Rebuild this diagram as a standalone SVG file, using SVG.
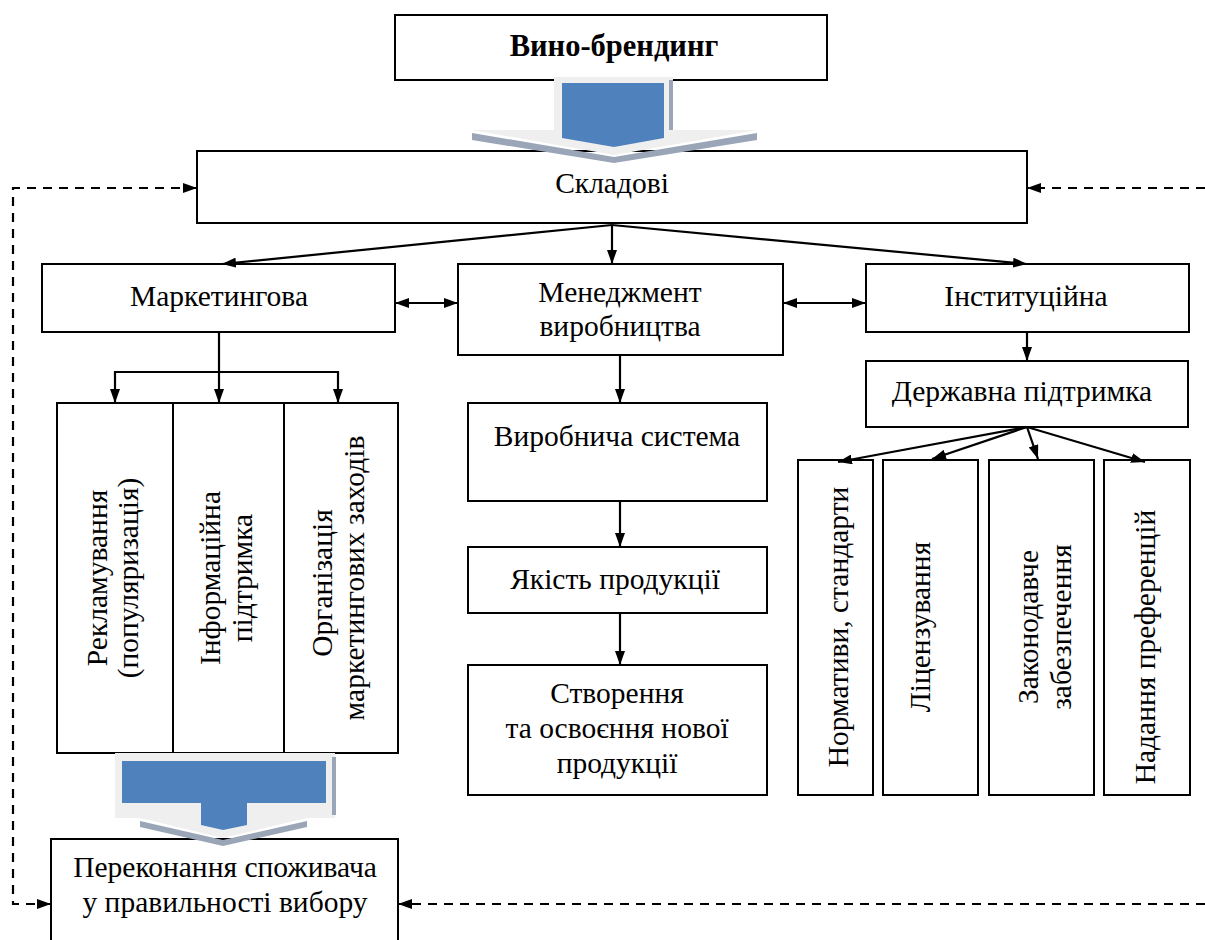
<svg xmlns="http://www.w3.org/2000/svg" width="1205" height="940" viewBox="0 0 1205 940">
<defs>
<style>
.box{fill:#fff;stroke:#000;stroke-width:2}
.t{font-family:"Liberation Serif","Times New Roman",serif;font-size:29.5px;fill:#000;text-anchor:middle}
.b{font-weight:bold;font-size:30.5px}
.ln{fill:none;stroke:#000;stroke-width:2.2}
.dash{fill:none;stroke:#000;stroke-width:2.2;stroke-dasharray:9 7}
.blue{fill:#4f81bd}
.lite{fill:#efefef}
.shade{fill:#9aa6b8}
</style>
<marker id="ah" viewBox="0 0 14 10" refX="14" refY="5" markerWidth="14" markerHeight="10" markerUnits="userSpaceOnUse" orient="auto-start-reverse">
<path d="M0,0 L14,5 L0,10 z" fill="#000"/>
</marker>
</defs>

<g id="node-vyno">
<rect class="box" x="395" y="15" width="432" height="65"/>
<text class="t b" x="614" y="56">Вино-брендинг</text>
</g>

<g id="node-skladovi">
<rect class="box" x="197" y="151" width="830" height="72"/>
<text class="t" x="612" y="193">Складові</text>
</g>

<g id="arrow-top">
<polygon class="shade" points="472,133 614,157 757,133 757,140 614,163 472,140"/>
<polygon class="lite" points="554,77 673,77 673,130 757,130 614,155 472,130 554,130"/>
<rect class="shade" x="669" y="80" width="4" height="50"/>
<polygon class="blue" points="562,83 664,83 664,138 614,147 562,138"/>
</g>

<g id="node-marketing">
<rect class="box" x="42" y="264" width="353" height="68"/>
<text class="t" x="219" y="306">Маркетингова</text>
</g>

<g id="node-management">
<rect class="box" x="458" y="264" width="325" height="91"/>
<text class="t" x="620" y="302">Менеджмент</text>
<text class="t" x="620" y="336">виробництва</text>
</g>

<g id="node-instytutsiina">
<rect class="box" x="866" y="264" width="323" height="68"/>
<text class="t" x="1026" y="306">Інституційна</text>
</g>

<g id="node-reklamuvannia">
<rect class="box" x="57" y="403" width="116" height="350"/>
<text class="t" transform="translate(107,578) rotate(-90)">Рекламування</text>
<text class="t" transform="translate(138,578) rotate(-90)">(популяризація)</text>
</g>
<g id="node-informatsiina">
<rect class="box" x="173" y="403" width="111" height="350"/>
<text class="t" transform="translate(220,578) rotate(-90)">Інформаційна</text>
<text class="t" transform="translate(252,578) rotate(-90)">підтримка</text>
</g>
<g id="node-orhanizatsiia">
<rect class="box" x="284" y="403" width="114" height="350"/>
<text class="t" transform="translate(332,583) rotate(-90)">Організація</text>
<text class="t" transform="translate(364,578) rotate(-90)">маркетингових заходів</text>
</g>

<g id="node-vyrobnycha">
<rect class="box" x="468" y="403" width="299" height="98"/>
<text class="t" x="617" y="446">Виробнича система</text>
</g>
<g id="node-yakist">
<rect class="box" x="468" y="547" width="299" height="66"/>
<text class="t" x="615" y="589">Якість продукції</text>
</g>
<g id="node-stvorennia">
<rect class="box" x="468" y="665" width="299" height="130"/>
<text class="t" x="617" y="703">Створення</text>
<text class="t" x="617" y="738">та освоєння нової</text>
<text class="t" x="617" y="773">продукції</text>
</g>

<g id="node-derzhavna">
<rect class="box" x="866" y="361" width="322" height="66"/>
<text class="t" x="1022" y="401">Державна підтримка</text>
</g>

<g id="node-normatyvy">
<rect class="box" x="798" y="460" width="75" height="335"/>
<text class="t" transform="translate(848,627) rotate(-90)">Нормативи,  стандарти</text>
</g>
<g id="node-litsenzuvannia">
<rect class="box" x="883" y="460" width="95" height="335"/>
<text class="t" transform="translate(930,627) rotate(-90)">Ліцензування</text>
</g>
<g id="node-zakonodavche">
<rect class="box" x="989" y="460" width="105" height="335"/>
<text class="t" transform="translate(1038,627) rotate(-90)">Законодавче</text>
<text class="t" transform="translate(1071,627) rotate(-90)">забезпечення</text>
</g>
<g id="node-nadannia">
<rect class="box" x="1104" y="460" width="86" height="335"/>
<text class="t" transform="translate(1155,647) rotate(-90)">Надання преференцій</text>
</g>

<g id="node-perekonannia">
<rect class="box" x="51" y="839" width="347" height="120"/>
<text class="t" x="225" y="877">Переконання споживача</text>
<text class="t" x="225" y="912">у правильності вибору</text>
</g>

<g id="arrow-bottom">
<polygon class="shade" points="140,821 223,840 307,821 307,827 223,846 140,827"/>
<polygon class="lite" points="115,753 335,753 335,818 307,818 223,838 140,818 115,818"/>
<rect class="shade" x="332" y="757" width="4" height="58"/>
<polygon class="blue" points="122,761 326,761 326,803 247,803 247,825 223,830 201,825 201,803 122,803"/>
</g>

<g id="connectors">
<line class="ln" x1="612" y1="225" x2="222" y2="264" marker-end="url(#ah)"/>
<line class="ln" x1="612" y1="225" x2="612" y2="264" marker-end="url(#ah)"/>
<line class="ln" x1="612" y1="225" x2="1027" y2="264" marker-end="url(#ah)"/>
<line class="ln" x1="395" y1="303" x2="458" y2="303" marker-start="url(#ah)" marker-end="url(#ah)"/>
<line class="ln" x1="783" y1="303" x2="866" y2="303" marker-start="url(#ah)" marker-end="url(#ah)"/>
<line class="ln" x1="219" y1="333" x2="219" y2="372"/>
<line class="ln" x1="114" y1="372" x2="338" y2="372"/>
<line class="ln" x1="115" y1="371" x2="115" y2="403" marker-end="url(#ah)"/>
<line class="ln" x1="219" y1="371" x2="219" y2="403" marker-end="url(#ah)"/>
<line class="ln" x1="338" y1="371" x2="338" y2="403" marker-end="url(#ah)"/>
<line class="ln" x1="620" y1="355" x2="620" y2="403" marker-end="url(#ah)"/>
<line class="ln" x1="620" y1="501" x2="620" y2="547" marker-end="url(#ah)"/>
<line class="ln" x1="620" y1="613" x2="620" y2="665" marker-end="url(#ah)"/>
<line class="ln" x1="1027" y1="332" x2="1027" y2="361" marker-end="url(#ah)"/>
<line class="ln" x1="1027" y1="427" x2="838" y2="462" marker-end="url(#ah)"/>
<line class="ln" x1="1027" y1="427" x2="932" y2="459" marker-end="url(#ah)"/>
<line class="ln" x1="1027" y1="427" x2="1038" y2="459" marker-end="url(#ah)"/>
<line class="ln" x1="1027" y1="427" x2="1145" y2="462" marker-end="url(#ah)"/>
<path class="dash" d="M51,904 H13 V188 H197" marker-start="url(#ah)" marker-end="url(#ah)"/>
<path class="dash" d="M1205,188 H1027" marker-end="url(#ah)"/>
<path class="dash" d="M1205,904 H398" marker-end="url(#ah)"/>
</g>
</svg>
